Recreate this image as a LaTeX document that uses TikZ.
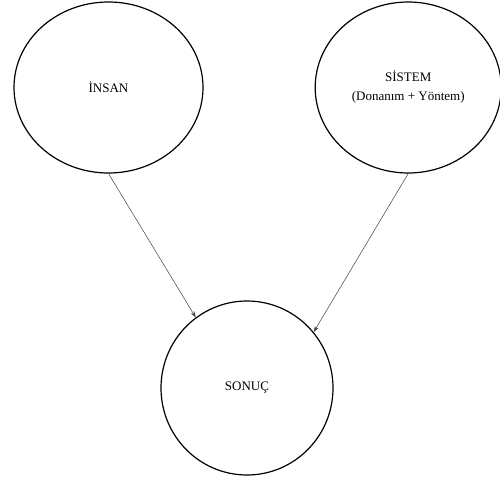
\documentclass[tikz,border=0pt]{standalone}
\usepackage{fontspec}
\setmainfont{Liberation Serif}
\usetikzlibrary{positioning,shapes.geometric,arrows.meta}

\begin{document}
\begin{tikzpicture}[x=1pt,y=-1pt,
                    thick,main node/.style={ellipse,draw,line width=1.2pt,inner sep=0pt,
                      align=center,font=\fontsize{13}{19}\selectfont},
                    flow/.style={-{Stealth[length=6pt,width=4pt]},line width=0.5pt,black!75}]
  \useasboundingbox (0,0) rectangle (500,479);

  \node[main node,minimum width=189pt,minimum height=171pt] (insan) at (108.5,87.5) {İNSAN};
  \node[main node,minimum width=186pt,minimum height=171pt] (sistem) [right=111pt of insan]
    {SİSTEM\\(Donanım + Yöntem)};
  \node[main node,minimum width=172pt,minimum height=174pt] (sonuc) at (247,388) {SONUÇ};

  \path[flow]
    (insan.south) edge (sonuc.126)
    (sistem.south) edge (sonuc.40);

\end{tikzpicture}
\end{document}
